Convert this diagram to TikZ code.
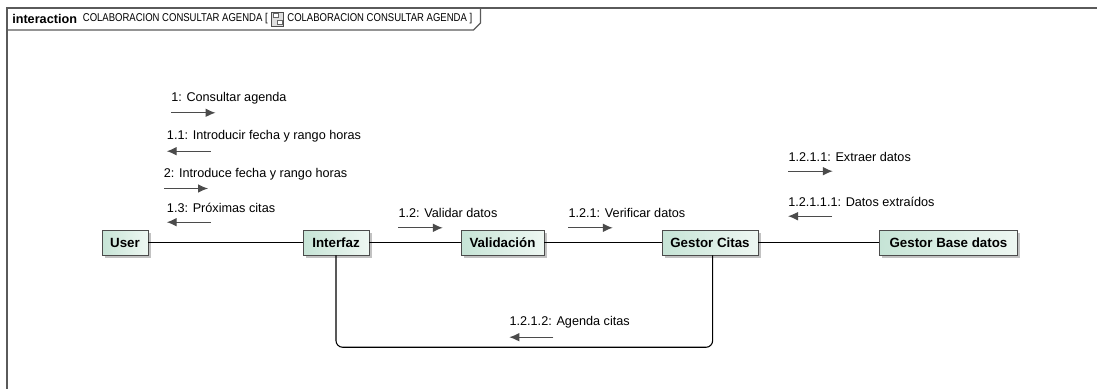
\documentclass[tikz,border=0pt]{standalone}
\usepackage{fontspec}
\setmainfont{Liberation Sans}
\newfontfamily\narrowfont[FakeStretch=0.84]{Liberation Sans}
\usetikzlibrary{positioning,shadows,arrows.meta}
\definecolor{boxleft}{RGB}{198,228,214}
\definecolor{boxright}{RGB}{238,247,242}
\definecolor{msggray}{RGB}{75,75,75}
\definecolor{framegray}{RGB}{90,90,90}

\begin{document}
\begin{tikzpicture}[x=0.75pt,y=-0.75pt,
  obj/.style={draw=black!70,left color=boxleft,right color=boxright,minimum height=18.75pt,inner sep=0pt,font=\fontsize{10}{12}\selectfont\bfseries,drop shadow={shadow xshift=2pt,shadow yshift=-2pt,fill=black!40,opacity=0.6}},
  lbl/.style={anchor=west,inner sep=0pt,font=\fontsize{9.5}{11}\selectfont},
  ttl/.style={inner sep=0pt,font=\narrowfont\fontsize{8.5}{10}\selectfont},
  icon/.style={draw=gray!60!black,fill=gray!25,minimum width=9pt,minimum height=10.5pt,inner sep=0pt,
    path picture={
      \draw[black!60,fill=white] ([shift={(1.2pt,-1.2pt)}]path picture bounding box.north west) rectangle ++(3.5pt,-3pt);
      \draw[black!60,fill=white] ([shift={(-1.2pt,1.2pt)}]path picture bounding box.south east) rectangle ++(-3.5pt,3pt);}},
  link/.style={draw=black,line width=0.8pt},
  msg/.style={draw=msggray,line width=0.8pt,-{Latex[length=7.5pt,width=6.5pt]}},
  umlframe/.style={draw=framegray,line width=0.9pt}]
  \useasboundingbox (0,0) rectangle (1097,389);
  % frame and heading
  \node[inner sep=0pt,anchor=west,font=\fontsize{9.5}{11}\selectfont\bfseries] (t1) at (12,19) {interaction};
  \node[ttl,right=4pt of t1] (t2) {COLABORACION CONSULTAR AGENDA [};
  \node[icon,right=2.5pt of t2] (ico) {};
  \node[ttl,right=2.5pt of ico] (t3) {COLABORACION CONSULTAR AGENDA ]};
  \coordinate (tabx) at ([xshift=6pt]t3.east);
  \draw[umlframe] (tabx |- 0,8) -- ++(0,15) -- ++(-7,7) -- (7,30);
  \draw[umlframe] (1097,8) -- (7,8) -- (7,389);
  % lifelines
  \node[obj,minimum width=34.5pt] (user) at (125,242.5) {User};
  \node[obj,minimum width=49.5pt] (itf) at (336,242.5) {Interfaz};
  \node[obj,minimum width=62.25pt] (val) at (502.5,242.5) {Validación};
  \node[obj,minimum width=72pt] (gc) at (710,242.5) {Gestor Citas};
  \node[obj,minimum width=103.5pt] (gbd) at (948.5,242.5) {Gestor Base datos};
  \draw[link] (user) -- (itf);
  \draw[link] (itf) -- (val);
  \draw[link] (val) -- (gc);
  \draw[link] (gc) -- (gbd);
  \draw[link,rounded corners=5pt] (itf.south) -- ++(0,92) -| ([xshift=2pt]gc.south);
  % messages
  \node[lbl] (m1) at (171,98.3) {1: Consultar agenda};
  \draw[msg] (m1.west) ++(0,14.5) -- ++(44.5,0);
  \node[lbl] (m11) at (166.7,136.7) {1.1: Introducir fecha y rango horas};
  \draw[msg] (m11.west) ++(44,14.5) -- ++(-44,0);
  \node[lbl] (m2) at (163.5,174) {2: Introduce fecha y rango horas};
  \draw[msg] (m2.west) ++(0.5,14.5) -- ++(44,0);
  \node[lbl] (m13) at (166.7,207.7) {1.3: Próximas citas};
  \draw[msg] (m13.west) ++(44,14.5) -- ++(-44,0);
  \node[lbl] (m12) at (398.3,213.3) {1.2: Validar datos};
  \draw[msg] (m12.west) ++(0,14.5) -- ++(44.5,0);
  \node[lbl] (m121) at (568.3,213.3) {1.2.1: Verificar datos};
  \draw[msg] (m121.west) ++(0,14.5) -- ++(44.5,0);
  \node[lbl] (m1211) at (788.3,156.7) {1.2.1.1: Extraer datos};
  \draw[msg] (m1211.west) ++(0,14.5) -- ++(44.5,0);
  \node[lbl] (m12111) at (788,201.7) {1.2.1.1.1: Datos extraídos};
  \draw[msg] (m12111.west) ++(44,14.5) -- ++(-44,0);
  \node[lbl] (m1212) at (509.3,322.7) {1.2.1.2: Agenda citas};
  \draw[msg] (m1212.west) ++(44,14.5) -- ++(-44,0);
\end{tikzpicture}
\end{document}
